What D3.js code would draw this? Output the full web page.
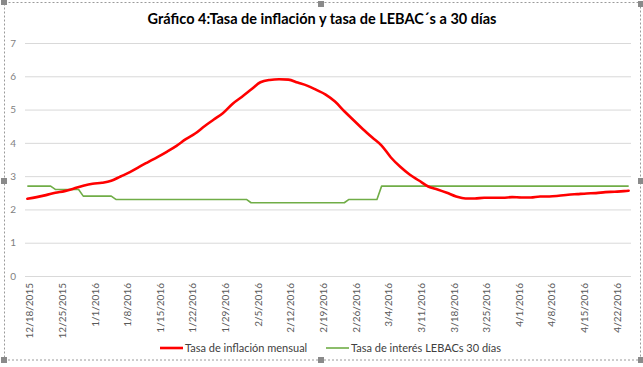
<!DOCTYPE html>
<html><head><meta charset="utf-8">
<script src="https://cdn.jsdelivr.net/npm/d3@7"></script>
<style>body{margin:0;background:#fff}svg{display:block}</style>
</head><body><svg id="c" width="643" height="367"></svg>
<script>
const chartTitle = "Gráfico 4:Tasa de inflación y tasa de LEBAC´s a 30 días";
const yTicks = [0, 1, 2, 3, 4, 5, 6, 7];
const xTickLabels = ["12/18/2015","12/25/2015","1/1/2016","1/8/2016","1/15/2016","1/22/2016","1/29/2016","2/5/2016","2/12/2016","2/19/2016","2/26/2016","3/4/2016","3/11/2016","3/18/2016","3/25/2016","4/1/2016","4/8/2016","4/15/2016","4/22/2016"];
const dateRange = ["12/18/2015", "4/25/2016"];
const seriesNames = ["Tasa de inflación mensual", "Tasa de interés LEBACs 30 días"];

const inflDates = ["12/18/2015","12/20/2015","12/22/2015","12/24/2015","12/26/2015","12/28/2015","12/30/2015",
 "1/1/2016","1/3/2016","1/5/2016","1/7/2016","1/9/2016","1/11/2016","1/13/2016","1/15/2016","1/17/2016","1/19/2016","1/21/2016","1/23/2016","1/25/2016","1/27/2016","1/29/2016","1/31/2016",
 "2/2/2016","2/4/2016","2/6/2016","2/8/2016","2/10/2016","2/12/2016","2/14/2016","2/16/2016","2/18/2016","2/20/2016","2/22/2016","2/24/2016","2/26/2016","2/28/2016",
 "3/1/2016","3/3/2016","3/5/2016","3/7/2016","3/9/2016","3/11/2016","3/13/2016","3/15/2016","3/17/2016","3/19/2016","3/21/2016","3/23/2016","3/25/2016","3/27/2016","3/29/2016","3/31/2016",
 "4/2/2016","4/4/2016","4/6/2016","4/8/2016","4/10/2016","4/12/2016","4/14/2016","4/16/2016","4/18/2016","4/20/2016","4/22/2016","4/24/2016","4/25/2016"];
const inflValues = [2.32,2.37,2.43,2.50,2.55,2.63,2.71,
 2.77,2.80,2.86,2.99,3.12,3.28,3.43,3.58,3.74,3.91,4.11,4.28,4.50,4.70,4.90,5.17,
 5.38,5.60,5.82,5.89,5.91,5.90,5.81,5.72,5.59,5.45,5.24,4.95,4.68,4.41,
 4.16,3.92,3.56,3.28,3.05,2.87,2.69,2.60,2.50,2.39,2.33,2.33,2.35,2.35,2.35,2.37,
 2.36,2.36,2.39,2.39,2.41,2.44,2.46,2.48,2.49,2.52,2.53,2.55,2.56];

const lebacDates = ["12/18/2015","12/23/2015","12/24/2015","12/29/2015","12/30/2015","1/5/2016","1/6/2016","2/3/2016","2/4/2016","2/24/2016","2/25/2016","3/2/2016","3/3/2016","4/25/2016"];
const lebacValues = [2.7,2.7,2.6,2.6,2.4,2.4,2.3,2.3,2.2,2.2,2.3,2.3,2.7,2.7];

const colors = ["#ff0000", "#70ad47"];
const font = "Lato, 'Open Sans', sans-serif";

const parse = d3.utcParse("%m/%d/%Y");
const fmt = d3.utcFormat("%-m/%-d/%Y");
const svg = d3.select("#c");
const plot = {left: 25, right: 631, top: 43, bottom: 276};
const day = 864e5;
const x = d3.scaleUtc()
  .domain([new Date(+parse(dateRange[0]) - day/2), new Date(+parse(dateRange[1]) + day/2)])
  .range([plot.left, plot.right]);
const y = d3.scaleLinear().domain([0, 7]).range([plot.bottom, plot.top]);

// frame (selection border)
svg.append("rect").attr("x", 4.5).attr("y", 2.5).attr("width", 636).attr("height", 357.5)
  .attr("fill", "none").attr("stroke", "#9a9a9a").attr("stroke-dasharray", "2,2");
const handles = [[4,2],[321,4],[641,4],[4,181],[641,181],[4,360],[321,360],[641,360]];
svg.selectAll("rect.h").data(handles).join("rect").attr("class","h")
  .attr("x", d => d[0]-3).attr("y", d => d[1]-3).attr("width", 6).attr("height", 6).attr("fill", "#8a8a8a");

// title
svg.append("text").attr("x", 322).attr("y", 24).attr("text-anchor", "middle")
  .attr("font-family", font).attr("font-weight", "bold").attr("font-size", 14.5).attr("fill", "#000")
  .text(chartTitle);

// gridlines
svg.append("g").selectAll("line").data(yTicks).join("line")
  .attr("x1", plot.left).attr("x2", plot.right)
  .attr("y1", d => y(d) + 0.5).attr("y2", d => y(d) + 0.5)
  .attr("stroke", "#d9d9d9").attr("stroke-width", 1);

// y axis
const yAxis = svg.append("g").attr("transform", `translate(${plot.left},0)`)
  .call(d3.axisLeft(y).tickValues(yTicks).tickSize(0).tickPadding(9).tickFormat(d3.format("d")));
yAxis.select(".domain").remove();
yAxis.selectAll("text").attr("font-family", font).attr("font-size", 10).attr("fill", "#7f7f7f");

// x axis
const xAxis = svg.append("g").attr("transform", `translate(0,${plot.bottom})`)
  .call(d3.axisBottom(x).tickValues(xTickLabels.map(parse)).tickSize(0).tickFormat(fmt));
xAxis.select(".domain").remove();
xAxis.selectAll("text").attr("font-family", font).attr("font-size", 10).attr("fill", "#595959")
  .attr("text-anchor", "end").attr("dy", null)
  .attr("transform", "translate(5.5,7) rotate(-90)").attr("x", 0).attr("y", 0);

// lines
const line = d3.line().x(d => x(d[0])).y(d => y(d[1]));
svg.append("path").datum(lebacDates.map((d, i) => [parse(d), lebacValues[i]]))
  .attr("d", line).attr("fill", "none").attr("stroke", colors[1]).attr("stroke-width", 1.6)
  .attr("stroke-linejoin", "round");
svg.append("path").datum(inflDates.map((d, i) => [parse(d), inflValues[i]]))
  .attr("d", line.curve(d3.curveMonotoneX)).attr("fill", "none").attr("stroke", colors[0]).attr("stroke-width", 2.6)
  .attr("stroke-linejoin", "round").attr("stroke-linecap", "round");

// legend
const legendItems = [{x: 160, name: seriesNames[0], c: colors[0], w: 2.6}, {x: 326, name: seriesNames[1], c: colors[1], w: 1.6}];
const lg = svg.append("g").selectAll("g").data(legendItems).join("g")
  .attr("transform", d => `translate(${d.x},348)`);
lg.append("line").attr("x1", 0).attr("x2", 23).attr("y1", 0).attr("y2", 0)
  .attr("stroke", d => d.c).attr("stroke-width", d => d.w);
lg.append("text").attr("x", 25).attr("y", 4).attr("font-family", font).attr("font-size", 11)
  .attr("fill", "#404040").text(d => d.name);
</script></body></html>
